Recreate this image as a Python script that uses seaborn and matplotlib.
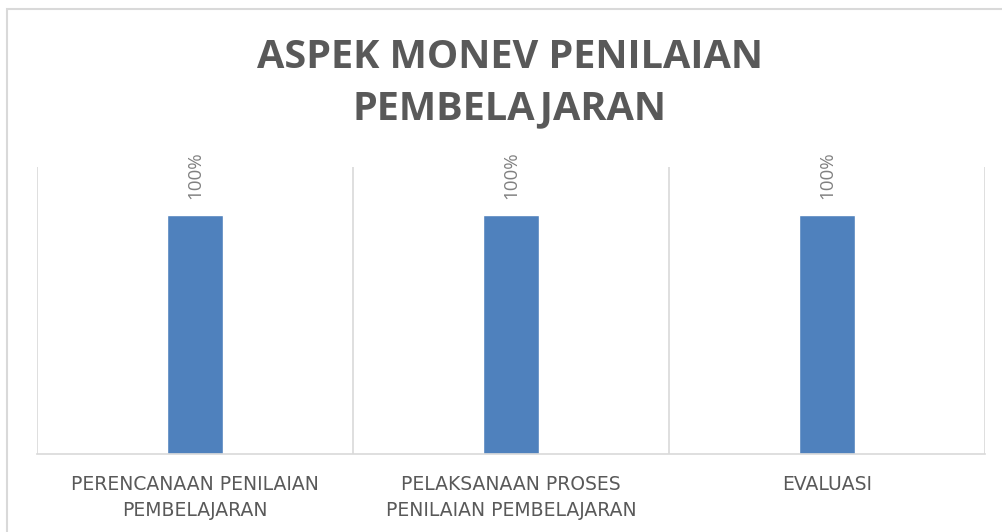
import matplotlib
matplotlib.use("Agg")
import seaborn as sns
from matplotlib import pyplot as plt
from matplotlib.patches import Rectangle

# ========================================================
categories = ["PERENCANAAN PENILAIAN\nPEMBELAJARAN",
              "PELAKSANAAN PROSES\nPENILAIAN PEMBELAJARAN",
              "EVALUASI"]
values = [100, 100, 100]
value_labels = ["100%", "100%", "100%"]
title = "ASPEK MONEV PENILAIAN\nPEMBELAJARAN"

# ========================================================
sns.set_style("white")
plt.rcParams["font.family"] = ["Open Sans", "DejaVu Sans"]

grey_text = "#595959"
grid_col = "#d9d9d9"

fig = plt.figure(figsize=(10.03, 5.32), dpi=100)
ax = fig.add_axes([37/1003, 78/532, 948/1003, 287/532])

sns.barplot(x=categories, y=values, color="#4f81bd", width=0.18,
            saturation=1, ax=ax)

ax.set_xlim(-0.5, 2.5)
ax.set_ylim(0, 120)
ax.set_yticks([])
ax.set_xlabel("")
ax.set_ylabel("")

for s in ["top", "left", "right"]:
    ax.spines[s].set_visible(False)
ax.spines["bottom"].set_color(grid_col)
ax.spines["bottom"].set_linewidth(1.2)

for xv in [-0.5, 0.5, 1.5, 2.5]:
    ax.axvline(xv, color=grid_col, lw=1.2, zorder=0)

ax.tick_params(axis="x", length=0, pad=15, colors=grey_text)
for lbl in ax.get_xticklabels():
    lbl.set_linespacing(1.45)
    lbl.set_family(["DejaVu Sans"])
    lbl.set_fontsize(13.5)

for i, (v, t) in enumerate(zip(values, value_labels)):
    ax.text(i, v + 6.5, t, rotation=90, ha="center", va="bottom",
            fontsize=13.5, color="#808080")

fig.text(510/1003, 1 - 83/532, title, ha="center", va="center",
         fontsize=28.5, fontweight="bold", color=grey_text, linespacing=1.4)

# outer chart frame
fig.patches.append(Rectangle((7/1003, -0.05), 1.0, 1 - 9/532 + 0.05,
                             transform=fig.transFigure, fill=False,
                             edgecolor=grid_col, lw=1.5))

plt.savefig("out.png", dpi=100)
